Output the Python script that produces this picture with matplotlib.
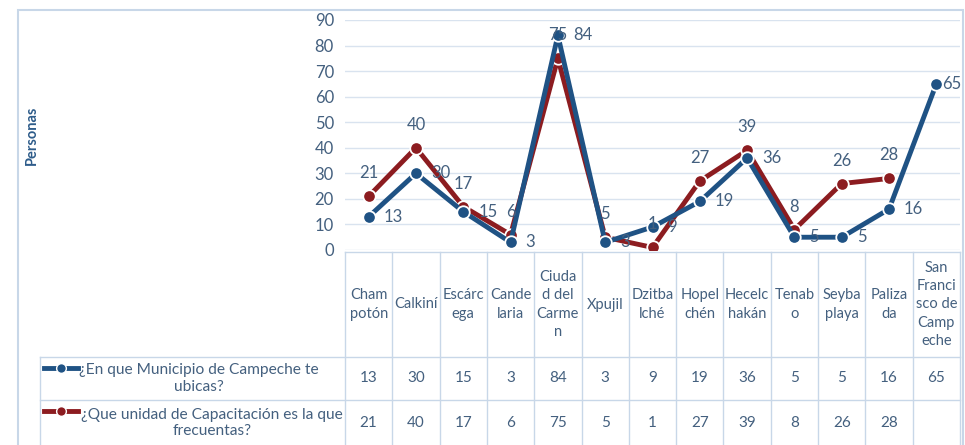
import numpy as np
import matplotlib.pyplot as plt
from matplotlib.lines import Line2D

plt.rcParams['font.family'] = ['Lato', 'DejaVu Sans']

# data
categories = ["Cham\npotón", "Calkiní", "Escárc\nega", "Cande\nlaria", "Ciuda\nd del\nCarme\nn",
              "Xpujil", "Dzitba\nlché", "Hopel\nchén", "Hecelc\nhakán", "Tenab\no",
              "Seyba\nplaya", "Paliza\nda", "San\nFranci\nsco de\nCamp\neche"]
municipio = [13, 30, 15, 3, 84, 3, 9, 19, 36, 5, 5, 16, 65]
unidad = [21, 40, 17, 6, 75, 5, 1, 27, 39, 8, 26, 28, np.nan]
series_names = ["¿En que Municipio de Campeche te\nubicas?",
                "¿Que unidad de Capacitación es la que\nfrecuentas?"]
yticks = list(range(0, 100, 10))

W, H = 965, 445
blue = '#1f5284'
red = '#8c1c20'
txt = '#44607f'
grid = '#d9e3ef'
border = '#c8d7e8'

fig = plt.figure(figsize=(W / 100, H / 100), dpi=100)


def fx(px):
    return px / W


def fy(py):
    return 1 - py / H


# outer chart border
fig.add_artist(plt.Rectangle((fx(18), fy(446)), fx(945), (436) / H, transform=fig.transFigure,
                             fill=False, edgecolor=border, lw=1.5))

x0, x1, ytop, ybot = 345, 960, 20, 250
ax = fig.add_axes([fx(x0), fy(ybot), fx(x1) - fx(x0), (ybot - ytop) / H])
ax.set_xlim(-0.5, len(categories) - 0.5)
ax.set_ylim(0, 90)
ax.set_yticks(yticks)
ax.set_xticks([])
ax.tick_params(axis='y', length=0, pad=8, labelsize=12, labelcolor=txt)
for s in ax.spines.values():
    s.set_visible(False)
ax.grid(axis='y', color=grid, lw=1)
ax.set_axisbelow(True)

x = np.arange(len(categories))
ax.plot(x, unidad, color=red, lw=3.5, marker='o', ms=9, mfc=red, mec='white', mew=1.3, zorder=3)
ax.plot(x, municipio, color=blue, lw=3.5, marker='o', ms=9, mfc=blue, mec='white', mew=1.3, zorder=4)

for i, v in enumerate(municipio):
    off = 6 if i == len(municipio) - 1 else 15
    ax.annotate(str(v), (i, v), xytext=(off, 0), textcoords='offset pixels',
                ha='left', va='center', fontsize=12, color=txt, zorder=5)
for i, v in enumerate(unidad):
    if not np.isnan(v):
        ax.annotate(str(int(v)), (i, v), xytext=(0, 23), textcoords='offset pixels',
                    ha='center', va='center', fontsize=12, color=txt, zorder=5)

fig.text(fx(32), fy(135), "Personas", rotation=90, ha='center', va='center',
         fontsize=10.5, fontweight='bold', color='#2e5c8a')

# data table
col_w = (x1 - x0) / len(categories)
h_top, r1, r2, r3 = 252, 357, 400, 446


def hline(px_a, px_b, py):
    fig.add_artist(Line2D([fx(px_a), fx(px_b)], [fy(py), fy(py)], transform=fig.transFigure,
                          color=border, lw=1))


def vline(px, py_a, py_b):
    fig.add_artist(Line2D([fx(px), fx(px)], [fy(py_a), fy(py_b)], transform=fig.transFigure,
                          color=border, lw=1))


hline(x0, x1, h_top)
hline(40, x1, r1)
hline(40, x1, r2)
vline(40, r1, r3)
for k in range(len(categories) + 1):
    vline(x0 + k * col_w, h_top, r3)

for k, c in enumerate(categories):
    cx = x0 + (k + 0.5) * col_w
    fig.text(fx(cx), fy((h_top + r1) / 2), c, ha='center', va='center', multialignment='center',
             fontsize=10.5, color=txt, linespacing=1.4)
    fig.text(fx(cx), fy((r1 + r2) / 2), str(municipio[k]), ha='center', va='center',
             fontsize=11, color=txt)
    if not np.isnan(unidad[k]):
        fig.text(fx(cx), fy((r2 + r3) / 2), str(int(unidad[k])), ha='center', va='center',
                 fontsize=11, color=txt)

# legend cells
for (name, col, ya, yb, cxt) in [(series_names[0], blue, r1, r2, 199),
                                 (series_names[1], red, r2, r3, 212)]:
    yl = ya + 11
    fig.add_artist(Line2D([fx(44), fx(78)], [fy(yl), fy(yl)], transform=fig.transFigure,
                          color=col, lw=3.5))
    fig.add_artist(Line2D([fx(61)], [fy(yl)], transform=fig.transFigure, marker='o', ms=7,
                          mfc=col, mec='white', mew=1, color=col))
    fig.text(fx(cxt), fy((ya + yb) / 2), name, ha='center', va='center', multialignment='center',
             fontsize=11.2, color=txt, linespacing=1.25)

fig.savefig('out.png', dpi=100)
